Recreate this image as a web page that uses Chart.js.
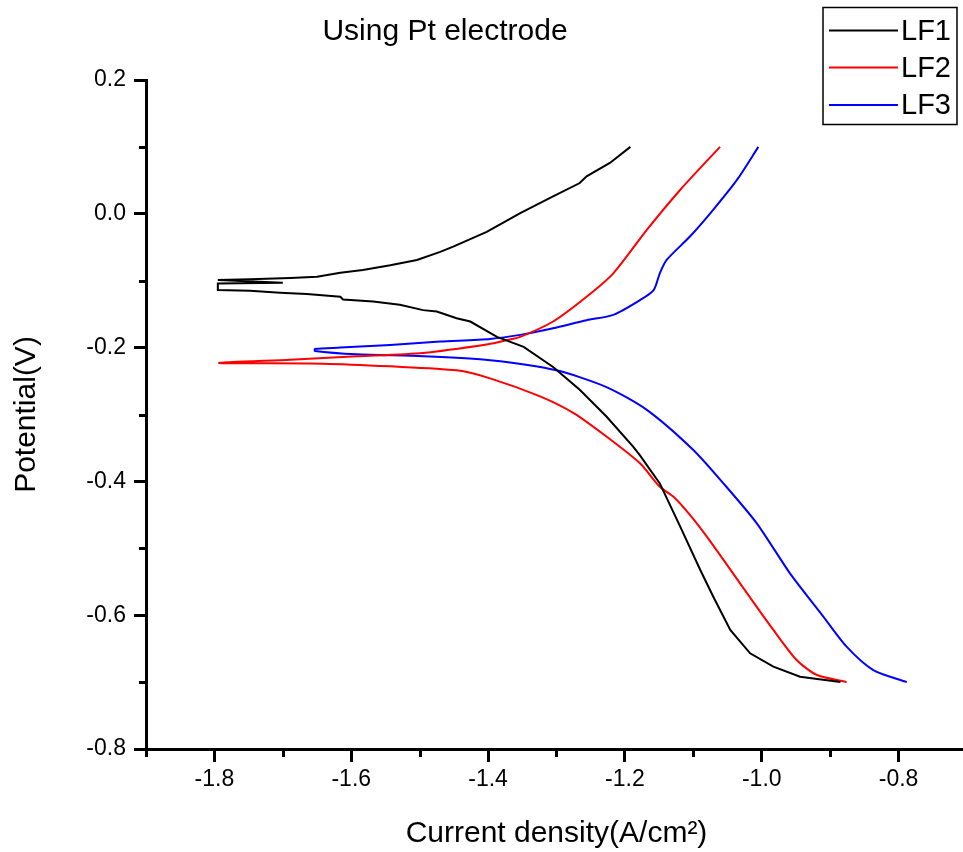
<!DOCTYPE html>
<html><head><meta charset="utf-8">
<script src="https://cdn.jsdelivr.net/npm/chart.js@4.4.1/dist/chart.umd.min.js"></script>
<style>
html,body{margin:0;padding:0;background:#fff;overflow:hidden;}
#wrap{position:relative;width:968px;height:852px;}
</style></head><body>
<div id="wrap"><canvas id="c"></canvas></div>
<script>
const chartTitle = 'Using Pt electrode';
const xTitle = 'Current density(A/cm\u00B2)';
const yTitle = 'Potential(V)';
const seriesNames = ['LF1', 'LF2', 'LF3'];
const seriesColors = ['#000000', '#ff0000', '#0000ff'];

const xTickValues = [-1.8, -1.6, -1.4, -1.2, -1.0, -0.8];
const xMinorValues = [-1.9, -1.7, -1.5, -1.3, -1.1, -0.9, -0.7];
const yTickValues = [0.2, 0.0, -0.2, -0.4, -0.6, -0.8];
const yMinorValues = [0.1, -0.1, -0.3, -0.5, -0.7];

const lf1X = [-0.885,-0.944,-0.983,-1.017,-1.046,-1.071,-1.090,-1.119,-1.149,-1.178,-1.188,-1.227,-1.266,-1.305,-1.348,-1.387,-1.426,-1.446,-1.475,-1.495,-1.529,-1.568,-1.612,-1.616,-1.665,-1.704,-1.748,-1.795,-1.795,-1.700,-1.795,-1.748,-1.689,-1.650,-1.616,-1.583,-1.543,-1.504,-1.470,-1.451,-1.402,-1.353,-1.305,-1.266,-1.256,-1.222,-1.192];
const lf1Y = [-0.700,-0.692,-0.677,-0.657,-0.622,-0.572,-0.532,-0.468,-0.403,-0.361,-0.348,-0.303,-0.263,-0.229,-0.199,-0.184,-0.161,-0.156,-0.146,-0.144,-0.136,-0.131,-0.128,-0.124,-0.120,-0.118,-0.115,-0.114,-0.104,-0.103,-0.099,-0.098,-0.096,-0.094,-0.088,-0.084,-0.077,-0.069,-0.057,-0.049,-0.027,0.001,0.026,0.046,0.056,0.076,0.100];

const lf2X = [-0.876,-0.920,-0.949,-0.983,-1.032,-1.080,-1.105,-1.129,-1.149,-1.178,-1.227,-1.275,-1.324,-1.397,-1.446,-1.543,-1.641,-1.793,-1.689,-1.592,-1.495,-1.400,-1.373,-1.353,-1.305,-1.256,-1.217,-1.168,-1.119,-1.061];
const lf2Y = [-0.700,-0.689,-0.667,-0.622,-0.552,-0.483,-0.450,-0.423,-0.408,-0.373,-0.333,-0.298,-0.273,-0.246,-0.234,-0.228,-0.224,-0.223,-0.218,-0.213,-0.208,-0.195,-0.189,-0.184,-0.161,-0.124,-0.089,-0.024,0.036,0.100];

const lf3X = [-0.788,-0.837,-0.876,-0.910,-0.959,-1.007,-1.056,-1.100,-1.168,-1.227,-1.300,-1.397,-1.495,-1.592,-1.653,-1.653,-1.616,-1.543,-1.470,-1.397,-1.353,-1.305,-1.256,-1.217,-1.178,-1.158,-1.149,-1.139,-1.105,-1.071,-1.036,-1.005];
const lf3Y = [-0.700,-0.682,-0.647,-0.602,-0.537,-0.463,-0.403,-0.353,-0.293,-0.259,-0.234,-0.219,-0.213,-0.210,-0.205,-0.202,-0.200,-0.196,-0.191,-0.187,-0.181,-0.171,-0.159,-0.151,-0.129,-0.114,-0.089,-0.069,-0.034,0.006,0.051,0.100];

const FONT = "'Liberation Sans', Arial, sans-serif";

function pts(xs, ys) { return xs.map((x, i) => ({ x: x, y: ys[i] })); }
function fmt(v) { return (Math.abs(v) < 1e-9 ? 0 : v).toFixed(1); }

const allX = [lf1X, lf2X, lf3X];
const allY = [lf1Y, lf2Y, lf3Y];
const tensions = [0, 0.25, 0.25];
const datasets = seriesNames.map((n, i) => ({
  label: n,
  data: pts(allX[i], allY[i]),
  borderColor: seriesColors[i],
  backgroundColor: seriesColors[i],
  showLine: true,
  pointRadius: 0,
  borderWidth: 2,
  tension: tensions[i],
  fill: false
}));

const decor = {
  id: 'decor',
  afterDraw(chart) {
    const { ctx, chartArea: a } = chart;
    const x = chart.scales.x, y = chart.scales.y;
    ctx.save();
    ctx.strokeStyle = '#000';
    ctx.lineWidth = 3;
    xMinorValues.forEach(v => {
      const px = Math.round(x.getPixelForValue(v)) + 0.5;
      ctx.beginPath(); ctx.moveTo(px, a.bottom); ctx.lineTo(px, a.bottom + 8); ctx.stroke();
    });
    yMinorValues.forEach(v => {
      const py = Math.round(y.getPixelForValue(v)) + 0.5;
      ctx.beginPath(); ctx.moveTo(a.left, py); ctx.lineTo(a.left - 7, py); ctx.stroke();
    });
    // chart title
    ctx.fillStyle = '#000';
    ctx.font = '30px ' + FONT;
    ctx.textAlign = 'center';
    ctx.textBaseline = 'middle';
    ctx.fillText(chartTitle, 445, 32);
    // legend box
    ctx.lineWidth = 1.5;
    ctx.strokeStyle = '#000';
    ctx.strokeRect(823, 7.5, 134, 117);
    const rows = [30.5, 67.5, 105];
    ctx.font = '29px ' + FONT;
    ctx.textAlign = 'left';
    chart.data.datasets.forEach((ds, i) => {
      ctx.strokeStyle = ds.borderColor;
      ctx.lineWidth = 2;
      ctx.beginPath(); ctx.moveTo(829, rows[i]); ctx.lineTo(898, rows[i]); ctx.stroke();
      ctx.fillStyle = '#000';
      ctx.fillText(ds.label, 901, rows[i] + 1);
    });
    ctx.restore();
  }
};

new Chart(document.getElementById('c'), {
  type: 'scatter',
  data: { datasets: datasets },
  options: {
    responsive: true,
    maintainAspectRatio: false,
    animation: false,
    layout: { padding: { top: 80, right: 1, bottom: 0, left: 0 } },
    plugins: { legend: { display: false }, title: { display: false }, tooltip: { enabled: false } },
    scales: {
      x: {
        type: 'linear', position: 'bottom', min: -1.9, max: -0.7,
        afterBuildTicks: s => { s.ticks = xTickValues.map(v => ({ value: v })); },
        afterFit: s => { s.height = 103; },
        grid: { drawOnChartArea: false, drawTicks: true, tickLength: 13, tickWidth: 3, color: '#000' },
        border: { display: true, width: 3, color: '#000' },
        ticks: { color: '#000', font: { family: FONT, size: 23 }, padding: 4, maxRotation: 0, autoSkip: false, callback: v => fmt(v) },
        title: { display: true, text: xTitle, color: '#000', font: { family: FONT, size: 30 }, padding: { top: 0, bottom: 0 } }
      },
      y: {
        type: 'linear', position: 'left', min: -0.8, max: 0.2,
        afterBuildTicks: s => { s.ticks = yTickValues.map(v => ({ value: v })); },
        afterFit: s => { s.width = 146; },
        grid: { drawOnChartArea: false, drawTicks: true, tickLength: 12, tickWidth: 3, color: '#000' },
        border: { display: true, width: 3, color: '#000' },
        ticks: { color: '#000', font: { family: FONT, size: 23 }, padding: 8, autoSkip: false, callback: v => fmt(v) },
        title: { display: true, text: yTitle, color: '#000', font: { family: FONT, size: 30 }, padding: { top: 9, bottom: 0 } }
      }
    }
  },
  plugins: [decor]
});
</script>
</body></html>
